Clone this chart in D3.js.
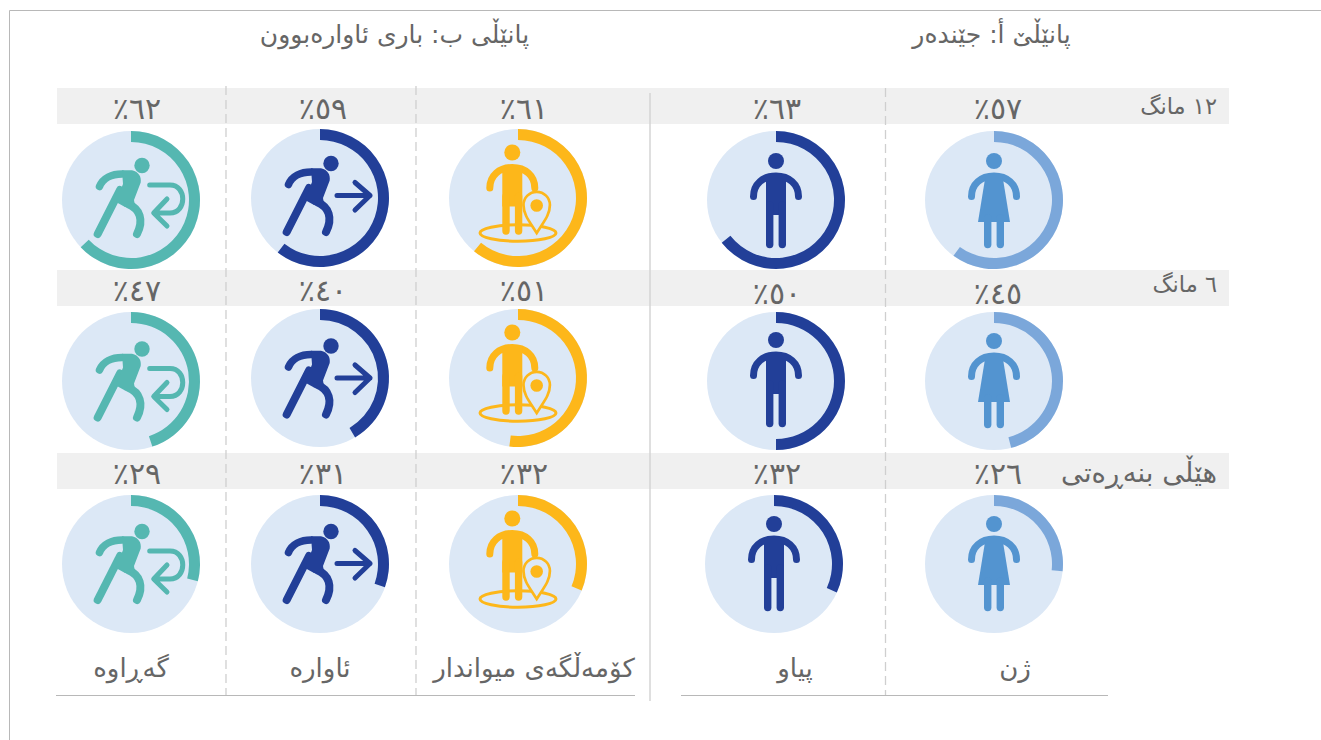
<!DOCTYPE html>
<html><head><meta charset="utf-8">
<script src="https://cdn.jsdelivr.net/npm/d3@7"></script>
<style>html,body{margin:0;padding:0;background:#fff;overflow:hidden}svg{display:block}
text{font-family:"DejaVu Sans","Noto Sans",sans-serif;fill:#666;font-weight:400}</style></head>
<body><svg id="c" width="1321" height="740"></svg>
<script>
const categories=["ژن","پیاو","کۆمەڵگەی میواندار","ئاوارە","گەڕاوە"];
const rowLabels=["١٢ مانگ","٦ مانگ","هێڵی بنەڕەتی"];
const panelTitles=["پانێڵێ أ: جێندەر","پانێڵی ب: باری ئاوارەبوون"];
// printed percentages
const women=[57,45,26];
const men=[63,50,32];
const hostCommunity=[61,51,32];
const displaced=[59,40,31];
const returnees=[62,47,29];
const series=[women,men,hostCommunity,displaced,returnees];
// ring extents as actually drawn in the picture (percent of a full turn)
const ringWomen=[60,46,26.7];
const ringMen=[64.4,50,31.8];
const ringHost=[61,52,31.3];
const ringDisplaced=[60.5,41.5,30.5];
const ringReturnees=[63,45,29];
const rings=[ringWomen,ringMen,ringHost,ringDisplaced,ringReturnees];
const ringColors=["#7BA7DA","#223F98","#FDB71A","#223F98","#55B7B1"];
const iconColors=["#5394D0","#223F98","#FDB71A","#223F98","#55B7B1"];
const iconKinds=["woman","man","host","leave","return"];

const svg=d3.select("#c");
const x=d3.scaleOrdinal().domain(d3.range(5)).range([994,776,518,320,131]);
const y=d3.scaleOrdinal().domain(d3.range(3)).range([200,381,564]);
const bandY=d3.scaleOrdinal().domain(d3.range(3)).range([88,270,453]);
const labelShift=[4,1,6,3,6];
const catX=[1015,795,534,320,131];
const frac=d3.scaleLinear().domain([0,100]).range([0,2*Math.PI]);
const arc=d3.arc().innerRadius(58).outerRadius(69).startAngle(0);
const ar=n=>String(n).replace(/\d/g,d=>"٠١٢٣٤٥٦٧٨٩"[d]);

// frame
const gray="#B8B8B8";
svg.append("path").attr("d","M9.5,740V10.5H1321").attr("fill","none").attr("stroke",gray).attr("stroke-width",1);
// bands
svg.selectAll("rect.band").data(d3.range(3)).join("rect").attr("class","band")
 .attr("x",57).attr("width",1172).attr("y",d=>bandY(d)).attr("height",36).attr("fill","#F0F0F0");
// rules
[[885.5,88],[416,86],[226,86]].forEach(([px,top])=>{
 svg.append("line").attr("x1",px).attr("x2",px).attr("y1",top).attr("y2",695)
  .attr("stroke","#CFCFCF").attr("stroke-width",1.3).attr("stroke-dasharray","9 5");
});
svg.append("line").attr("x1",650).attr("x2",650).attr("y1",93).attr("y2",701).attr("stroke","#D4D4D4").attr("stroke-width",1.5);
[[56,635],[681,1108]].forEach(([a,b])=>svg.append("line").attr("x1",a).attr("x2",b).attr("y1",695.5).attr("y2",695.5).attr("stroke",gray).attr("stroke-width",1));

// icon parts
function person(g,c,legBottom,dress){
 g.append("circle").attr("cy",-39).attr("r",8).attr("fill",c);
 g.append("path").attr("d","M-22.5,-3.5 C-22.5,-16 -13,-24 0,-24 C13,-24 22.5,-16 22.5,-3.5")
  .attr("fill","none").attr("stroke",c).attr("stroke-width",7).attr("stroke-linecap","round");
 if(dress){
  g.append("path").attr("d","M-8.5,-24 L8.5,-24 L16,22 L-16,22Z").attr("fill",c);
  [-6.3,6.3].forEach(s=>g.append("line").attr("x1",s).attr("x2",s).attr("y1",18).attr("y2",legBottom).attr("stroke",c).attr("stroke-width",7.4).attr("stroke-linecap","round"));
 } else {
  g.append("rect").attr("x",-10).attr("width",20).attr("y",-25).attr("height",40).attr("fill",c);
  [-6.3,6.3].forEach(s=>g.append("line").attr("x1",s).attr("x2",s).attr("y1",5).attr("y2",legBottom).attr("stroke",c).attr("stroke-width",7.4).attr("stroke-linecap","round"));
 }
}
function walker(g,c){
 g.append("circle").attr("cx",11).attr("cy",-34.5).attr("r",7.7).attr("fill",c);
 const s=(d,w)=>g.append("path").attr("d",d).attr("fill","none").attr("stroke",c).attr("stroke-width",w).attr("stroke-linecap","round").attr("stroke-linejoin","round");
 s("M-31.5,-13.5 C-28,-22 -19,-26 -9,-26",7.5);
 s("M-33.3,34 L-11,-10",8);
 s("M-3,4 C9,9 13,20 6,34",8);
 g.append("path").attr("d","M-9,-29.7 L1,-29.7 C8,-28 10.5,-23 9.7,-17.5 L3,0 L4,6 L-6,7 L-15,2 L-8,-16 Z").attr("fill",c);
}
const draw={
 woman:(g,c)=>person(g,c,44.5,true),
 man:(g,c)=>person(g,c,44.5,false),
 host:(g,c)=>{
  g.append("ellipse").attr("cy",35).attr("rx",38).attr("ry",8.2).attr("fill","none").attr("stroke",c).attr("stroke-width",3);
  person(g.append("g").attr("transform","translate(-5.7,-6.5)"),c,39.5,false);
  g.append("path").attr("d","M18.7,35 C12,24 5.5,17 5.5,7 A13.2,13.2 0 0 1 31.9,7 C31.9,17 25.4,24 18.7,35Z").attr("fill","#DCE8F6").attr("stroke",c).attr("stroke-width",2.7);
  g.append("circle").attr("cx",18.7).attr("cy",7.5).attr("r",6.3).attr("fill",c);
 },
 leave:(g,c)=>{
  walker(g,c);
  g.append("path").attr("d","M17,-2.5 H50 M35,-15.5 L50,-2.5 L35,12").attr("fill","none").attr("stroke",c).attr("stroke-width",5).attr("stroke-linecap","round").attr("stroke-linejoin","round");
 },
 return:(g,c)=>{
  walker(g,c);
  g.append("path").attr("d","M18.7,-15 H39 C56,-15 56,13 39,13 H23 M36,-1 L22.7,13 L36,26").attr("fill","none").attr("stroke",c).attr("stroke-width",5).attr("stroke-linecap","round").attr("stroke-linejoin","round");
 }
};
// small per-panel nudges seen in the reference
const ringDy={2:[-2,-3,0],3:[-2,-3,0]};
const iconDy={woman:[0,-1,-1],man:[0,-2,-1],host:[0,0,0],leave:[0,2.5,2],return:[0,2.5,2]};
const labelDy=(ci,ri)=>(ri===1&&ci<2?34:31);

series.forEach((vals,ci)=>{
 vals.forEach((v,ri)=>{
  const cx=x(ci)-(ci===1&&ri===2?2:0), cy=y(ri)+((ringDy[ci]||[0,0,0])[ri]);
  const g=svg.append("g").attr("transform",`translate(${cx},${cy})`);
  g.append("circle").attr("r",69).attr("fill","#DCE8F6");
  g.append("path").attr("d",arc({endAngle:frac(rings[ci][ri])})).attr("fill",ringColors[ci]);
  const ig=g.append("g").attr("transform",`translate(0,${iconDy[iconKinds[ci]][ri]})`);
  draw[iconKinds[ci]](ig,iconColors[ci]);
  svg.append("text").attr("x",x(ci)+labelShift[ci]).attr("y",bandY(ri)+labelDy(ci,ri)).attr("text-anchor","middle")
   .attr("direction","rtl").attr("font-size",30).text(ar(v)+"٪");
 });
});
const rowBase=[26,22,29], rowSize=[22.5,22.5,27.5];
svg.selectAll("text.row").data(rowLabels).join("text").attr("class","row")
 .attr("x",1217).attr("y",(d,i)=>bandY(i)+rowBase[i]).attr("direction","rtl").attr("text-anchor","start").attr("font-size",(d,i)=>rowSize[i]).text(d=>d);
svg.selectAll("text.cat").data(categories).join("text").attr("class","cat")
 .attr("x",(d,i)=>catX[i]).attr("y",677).attr("text-anchor","middle").attr("direction","rtl").attr("font-size",26).text(d=>d);
svg.selectAll("text.title").data(panelTitles).join("text").attr("class","title")
 .attr("x",(d,i)=>[991.5,394.5][i]).attr("y",43).attr("text-anchor","middle").attr("direction","rtl").attr("font-size",25).text(d=>d);
</script></body></html>
